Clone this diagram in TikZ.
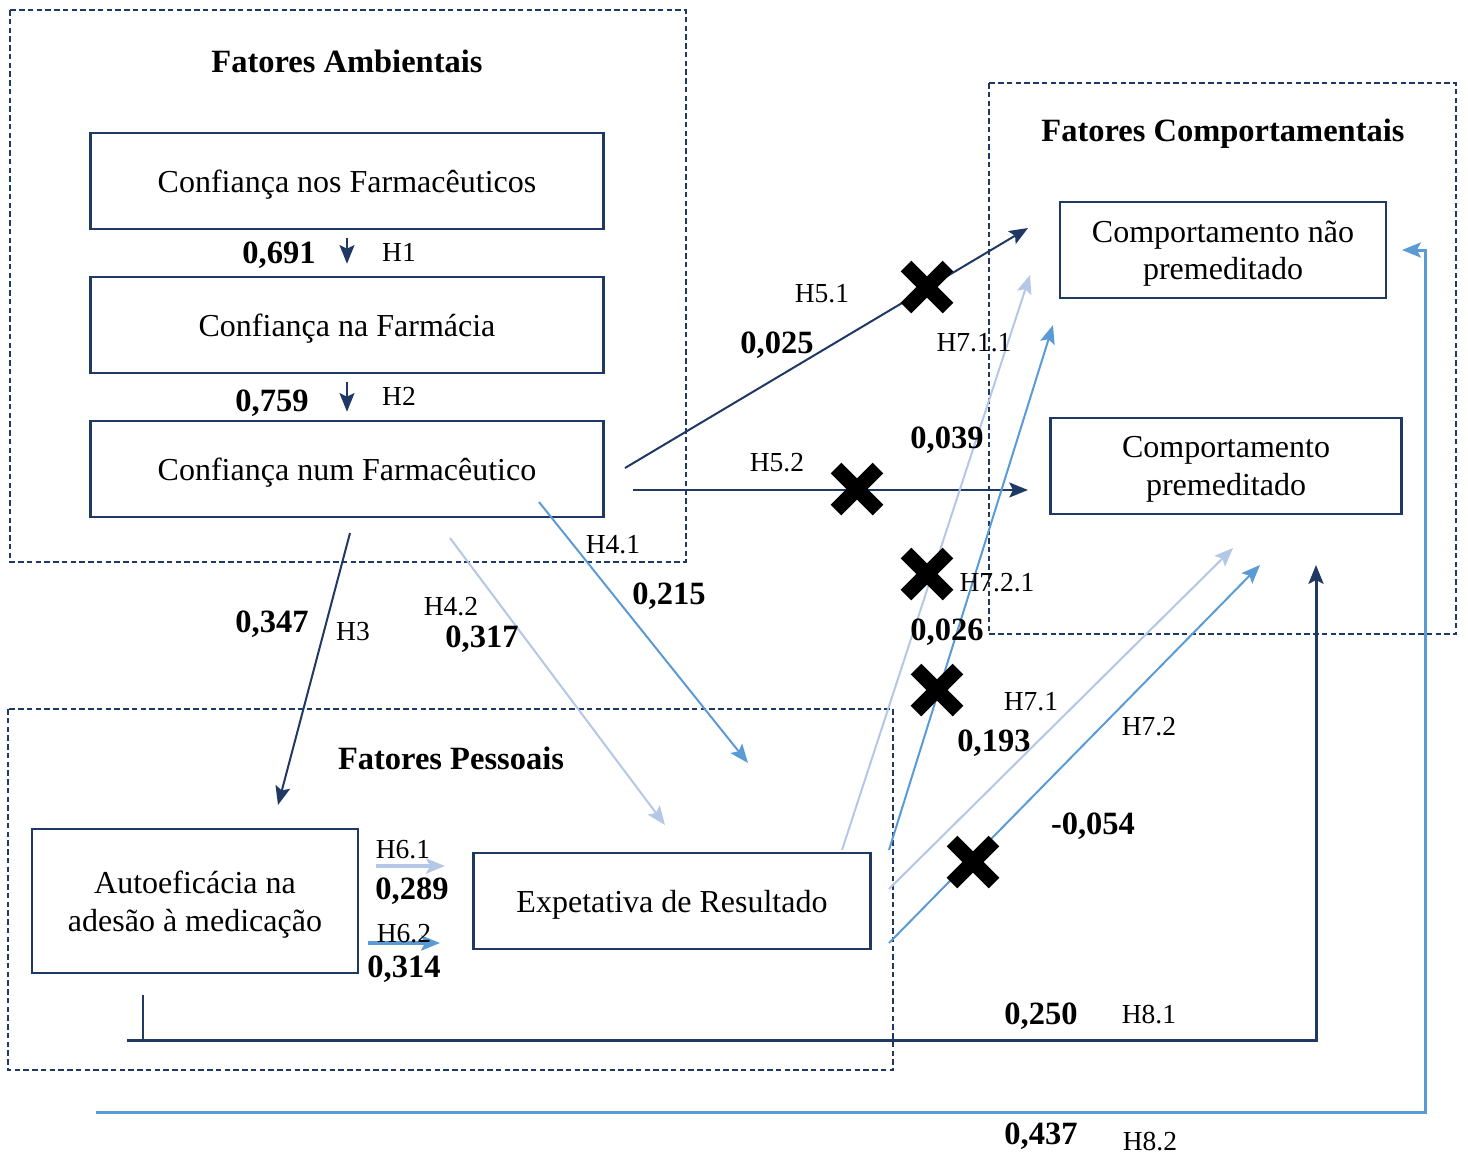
\documentclass[tikz,border=0pt]{standalone}
\usepackage{fontspec}
\setmainfont{Liberation Serif}
\usetikzlibrary{arrows.meta}
\definecolor{navy}{HTML}{1F3864}
\definecolor{lightblue}{HTML}{B4C7E7}
\definecolor{midblue}{HTML}{5B9BD5}
\tikzset{
    group/.style = {draw = navy, line width = 1pt, dash pattern = on 2.2pt off 1.3pt},
    construct/.style = {draw = navy, line width = 1pt, align = center, inner sep = 0pt,
        font = \fontsize{12.8}{15}\selectfont, text depth = 0pt},
    grouptitle/.style = {font = \fontsize{13}{15}\selectfont\bfseries, yshift = -1.2pt},
    coef/.style = {font = \fontsize{13}{15}\selectfont\bfseries, yshift = -1.2pt},
    hyp/.style = {font = \fontsize{11}{13}\selectfont, yshift = -1pt},
    link/.style = {line width = 0.8pt, -{Stealth[length = 7.5pt, width = 6pt, inset = 1.5pt]}},
    nocross/.style = {line width = 6pt, black},
}
\begin{document}
\begin{tikzpicture}[x = 0.4pt, y = -0.4pt]
    \useasboundingbox (0,0) rectangle (1468,1155);

    \draw [group] (10,10) rectangle (686,562);
    \draw [group] (989,83) rectangle (1456,634);
    \draw [group] (8,709) rectangle (893,1070);

    \node [grouptitle] (ambt) at (347,58) {Fatores Ambientais};
    \node [grouptitle] (compt) at (1223,131) {Fatores Comportamentais};
    \node [grouptitle] (pesst) at (451,755) {Fatores Pessoais};

    \node [construct, minimum width = 205.2pt, minimum height = 38.4pt]
        (nos) at (347,181) {Confiança nos Farmacêuticos};
    \node [construct, minimum width = 205.2pt, minimum height = 38.4pt]
        (na) at (347,325) {Confiança na Farmácia};
    \node [construct, minimum width = 205.2pt, minimum height = 38.4pt]
        (num) at (347,469) {Confiança num Farmacêutico};
    \node [construct, minimum width = 130.4pt, minimum height = 38.4pt]
        (naoprem) at (1223,250) {Comportamento não\\premeditado};
    \node [construct, minimum width = 140.4pt, minimum height = 38.4pt]
        (prem) at (1226,466) {Comportamento\\premeditado};
    \node [construct, minimum width = 130.4pt, minimum height = 57.6pt]
        (auto) at (195,901) {Autoeficácia na\\adesão à medicação};
    \node [construct, minimum width = 158.8pt, minimum height = 38.4pt]
        (expet) at (672,901) {Expetativa de Resultado};

    \coordinate (h3s) at (350,533);
    \coordinate (h3e) at (278,805);
    \coordinate (h41s) at (539,502);
    \coordinate (h41e) at (748,763);
    \coordinate (h42s) at (450,538);
    \coordinate (h42e) at (665,825);
    \coordinate (h51s) at (625,468);
    \coordinate (h51e) at (1028,228);
    \coordinate (h52s) at (633,490);
    \coordinate (h52e) at (1028,490);
    \coordinate (h61s) at (376,866);
    \coordinate (h61e) at (445,866);
    \coordinate (h62s) at (368,943);
    \coordinate (h62e) at (440,943);
    \coordinate (h711s) at (842,850);
    \coordinate (h711e) at (1030,275);
    \coordinate (h721s) at (889,850);
    \coordinate (h721e) at (1053,325);
    \coordinate (h71s) at (889,889);
    \coordinate (h71e) at (1233,548);
    \coordinate (h72s) at (889,943);
    \coordinate (h72e) at (1260,565);
    \coordinate (h81s) at (127,1040);
    \coordinate (h81c) at (1316,1040);
    \coordinate (h81e) at (1316,565);
    \coordinate (h82s) at (96,1112);
    \coordinate (h82c) at (1425,1112);
    \coordinate (h82d) at (1425,250);
    \coordinate (h82e) at (1402,250);

    \draw [link, navy] ([yshift = -3.2pt] nos.south) -- ([yshift = 4.8pt] na.north);
    \draw [link, navy] ([yshift = -3.2pt] na.south) -- ([yshift = 3.2pt] num.north);
    \draw [link, navy] (h3s) -- (h3e);
    \draw [link, midblue] (h41s) -- (h41e);
    \draw [link, lightblue] (h42s) -- (h42e);
    \draw [link, navy] (h51s) -- (h51e);
    \draw [link, navy] (h52s) -- (h52e);
    \draw [link, lightblue, line width = 1.4pt] (h61s) -- (h61e);
    \draw [link, midblue, line width = 1.4pt] (h62s) -- (h62e);
    \draw [link, lightblue] (h711s) -- (h711e);
    \draw [link, midblue] (h721s) -- (h721e);
    \draw [link, lightblue] (h71s) -- (h71e);
    \draw [link, midblue] (h72s) -- (h72e);
    \draw [navy, line width = 0.5pt] (143,995) -- (143,1040);
    \draw [link, navy, line width = 1.2pt] (h81s) -- (h81c) -- (h81e);
    \draw [link, midblue, line width = 1.2pt] (h82s) -- (h82c) -- (h82d) -- (h82e);

    \foreach \cx/\cy in {927/287, 857/489, 927/574, 937/690, 973/862}
    {
        \draw [nocross] (\cx-21,\cy-21) -- (\cx+21,\cy+21);
        \draw [nocross] (\cx-21,\cy+21) -- (\cx+21,\cy-21);
    }

    \node [coef] (c1) at (279,252) {0,691};
    \node [hyp] (l1) at (399,250) {H1};
    \node [coef] (c2) at (272,400) {0,759};
    \node [hyp] (l2) at (399,394) {H2};
    \node [coef] (c3) at (272,621) {0,347};
    \node [hyp] (l3) at (353,629) {H3};
    \node [hyp] (l41) at (613,542) {H4.1};
    \node [coef] (c41) at (669,593) {0,215};
    \node [hyp] (l42) at (451,604) {H4.2};
    \node [coef] (c42) at (482,636) {0,317};
    \node [hyp] (l51) at (822,291) {H5.1};
    \node [coef] (c51) at (777,342) {0,025};
    \node [hyp] (l52) at (777,460) {H5.2};
    \node [hyp] (l61) at (403,847) {H6.1};
    \node [coef] (c61) at (412,888) {0,289};
    \node [hyp] (l62) at (404,931) {H6.2};
    \node [coef] (c62) at (404,966) {0,314};
    \node [hyp] (l711) at (974,340) {H7.1.1};
    \node [coef] (c711) at (947,437) {0,039};
    \node [hyp] (l721) at (997,580) {H7.2.1};
    \node [coef] (c721) at (947,629) {0,026};
    \node [hyp] (l71) at (1031,699) {H7.1};
    \node [coef] (c71) at (994,740) {0,193};
    \node [hyp] (l72) at (1149,724) {H7.2};
    \node [coef] (c72) at (1093,823) {-0,054};
    \node [coef] (c81) at (1041,1013) {0,250};
    \node [hyp] (l81) at (1149,1012) {H8.1};
    \node [coef] (c82) at (1041,1133) {0,437};
    \node [hyp] (l82) at (1150,1139) {H8.2};
\end{tikzpicture}
\end{document}
